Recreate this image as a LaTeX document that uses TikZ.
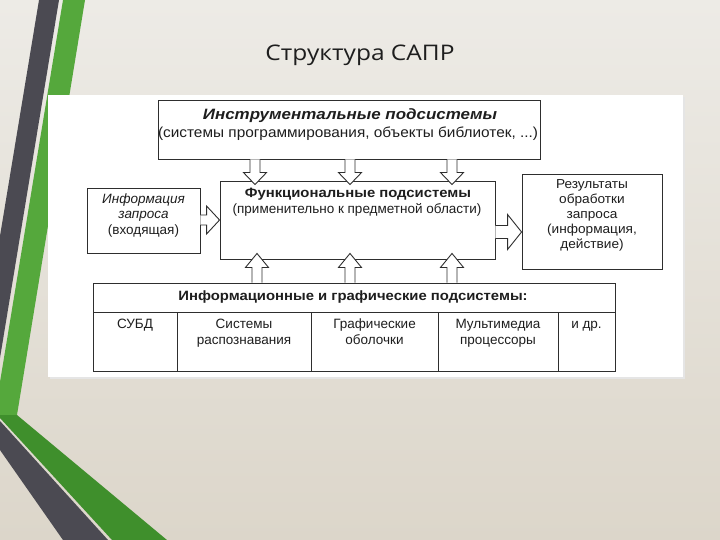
\documentclass[tikz,border=0pt]{standalone}
\usepackage{fontspec}
\setmainfont{Liberation Sans}
\newfontfamily\titlefont{Open Sans}
\usetikzlibrary{calc}
\definecolor{bgtop}{HTML}{EDEBE6}
\definecolor{bgbot}{HTML}{DCD6CA}
\definecolor{dkstripe}{HTML}{4B4A52}
\definecolor{gnstripe}{HTML}{55A83C}
\definecolor{gndiag}{HTML}{3F8F2C}
\definecolor{ln}{HTML}{2E2E2E}
\definecolor{tx}{HTML}{1E1E1E}
\newcommand\varr[5]{%
  \filldraw[blockarr] let \p1=(#1), \p2=(#2) in
  ({\x1-#4},{\y1}) -- ({\x1-#4},{\y2+(#3)}) -- ({\x1-#5},{\y2+(#3)}) -- ({\x1},{\y2}) --
  ({\x1+#5},{\y2+(#3)}) -- ({\x1+#4},{\y2+(#3)}) -- ({\x1+#4},{\y1});}
\newcommand\harr[5]{%
  \filldraw[blockarr] let \p1=(#1), \p2=(#2) in
  ({\x1},{\y1+#4}) -- ({\x2+(#3)},{\y1+#4}) -- ({\x2+(#3)},{\y1+#5}) -- ({\x2},{\y1}) --
  ({\x2+(#3)},{\y1-#5}) -- ({\x2+(#3)},{\y1-#4}) -- ({\x1},{\y1-#4});}
\begin{document}
\begin{tikzpicture}[x=1pt,y=-1pt,
  box/.style={draw=ln, line width=0.9pt, fill=white, inner sep=0pt},
  blockarr/.style={draw=ln, line width=0.9pt, fill=white, line join=miter},
  txt/.style={text=tx, inner sep=0pt, align=center, font=\fontsize{13.5}{16}\selectfont},
  btxt/.style={txt, xscale=1.1, font=\fontsize{13.5}{16}\selectfont\bfseries}]
\useasboundingbox (0,0) rectangle (720,540);
% slide background
\shade[top color=bgtop, bottom color=bgbot] (0,0) rectangle (720,540);
% left stripes
\fill[dkstripe] (39,0) -- (59,0) -- (0,358) -- (0,236) -- cycle;
\fill[gnstripe] (63,0) -- (85,0) -- (17,415) -- (0,415) -- (0,382) -- cycle;
\fill[gndiag] (0,415) -- (17,415) -- (167,540) -- (112,540) -- (0,418) -- cycle;
\fill[dkstripe] (0,421) -- (108,540) -- (63,540) -- (0,450) -- cycle;
% title
\node[text=tx, inner sep=0pt, xscale=1.14, font=\titlefont\fontsize{21.5}{24}\selectfont] (slidetitle) at (360,55) {Структура САПР};
% white picture panel
\fill[black!10] (50,97) rectangle (685,379);
\fill[white] (48,95) rectangle (683,377);
% boxes
\node[box, minimum width=382pt, minimum height=59pt] (instr) at (349,129.5) {};
\node[box, minimum width=275pt, minimum height=78pt] (func) at (357.5,220) {};
\node[box, minimum width=113pt, minimum height=65pt] (info) at (143.5,220.5) {};
\node[box, minimum width=140pt, minimum height=95pt] (res) at (592,221.5) {};
\node[box, minimum width=522pt, minimum height=29pt] (bt) at (354,297.5) {};
\node[box, minimum width=84pt, minimum height=59pt] (c1) at (135,341.5) {};
\node[box, minimum width=134pt, minimum height=59pt] (c2) at (244,341.5) {};
\node[box, minimum width=127pt, minimum height=59pt] (c3) at (374.5,341.5) {};
\node[box, minimum width=120pt, minimum height=59pt] (c4) at (498,341.5) {};
\node[box, minimum width=57pt, minimum height=59pt] (c5) at (586.5,341.5) {};
% arrow end points
\coordinate (d1s) at (instr.south -| 255,0);
\coordinate (d2s) at (instr.south -| 350,0);
\coordinate (d3s) at (instr.south -| 452,0);
\coordinate (d1t) at ($(func.north -| 255,0)+(0,4)$);
\coordinate (d2t) at ($(func.north -| 350,0)+(0,4)$);
\coordinate (d3t) at ($(func.north -| 452,0)+(0,4)$);
\coordinate (u1s) at (bt.north -| 257,0);
\coordinate (u2s) at (bt.north -| 350,0);
\coordinate (u3s) at (bt.north -| 452,0);
\coordinate (u1t) at ($(func.south -| 257,0)+(0,-6)$);
\coordinate (u2t) at ($(func.south -| 350,0)+(0,-6)$);
\coordinate (u3t) at ($(func.south -| 452,0)+(0,-6)$);
\coordinate (ls) at (info.east |- 0,220);
\coordinate (lt) at (func.west |- 0,220);
\coordinate (rs) at (func.east |- 0,232);
\coordinate (rt) at (res.west |- 0,232);
% arrows
\varr{d1s}{d1t}{12pt}{5pt}{11.5pt}
\varr{d2s}{d2t}{12pt}{5pt}{11.5pt}
\varr{d3s}{d3t}{12pt}{5pt}{11.5pt}
\varr{u1s}{u1t}{-14pt}{5pt}{11.5pt}
\varr{u2s}{u2t}{-14pt}{5pt}{11.5pt}
\varr{u3s}{u3t}{-14pt}{5pt}{11.5pt}
\harr{ls}{lt}{-13pt}{5pt}{14pt}
\harr{rs}{rt}{-14pt}{6.5pt}{17.5pt}
% texts
\node[txt, xscale=1.13, font=\fontsize{15}{17}\selectfont\bfseries\itshape] (instrA) at (350,116) {Инструментальные подсистемы};
\node[txt, xscale=1.06, font=\fontsize{14.5}{17}\selectfont] (instrB) at (348,133.5) {(системы программирования, объекты библиотек, ...)};
\node[btxt] (funcA) at (358,194) {Функциональные подсистемы};
\node[txt] (funcB) at (357,209.5) {(применительно к предметной области)};
\node[txt, font=\fontsize{13.5}{15.5}\selectfont] (infoT) at (143.5,215.5) {\itshape Информация\\\itshape запроса\\(входящая)};
\node[txt, xscale=1.05, font=\fontsize{13}{15}\selectfont] (resT) at (592,215) {Результаты\\обработки\\запроса\\(информация,\\действие)};
\node[btxt] (btT) at (353,297) {Информационные и графические подсистемы:};
\node[txt, anchor=north] (t1) at ($(c1.north)+(0,6)$) {\strut СУБД};
\node[txt, anchor=north] (t2) at ($(c2.north)+(0,6)$) {\strut Системы\\распознавания};
\node[txt, anchor=north] (t3) at ($(c3.north)+(0,6)$) {\strut Графические\\оболочки};
\node[txt, anchor=north] (t4) at ($(c4.north)+(0,6)$) {\strut Мультимедиа\\процессоры};
\node[txt, anchor=north] (t5) at ($(c5.north)+(0,6)$) {\strut и др.};
\end{tikzpicture}
\end{document}
